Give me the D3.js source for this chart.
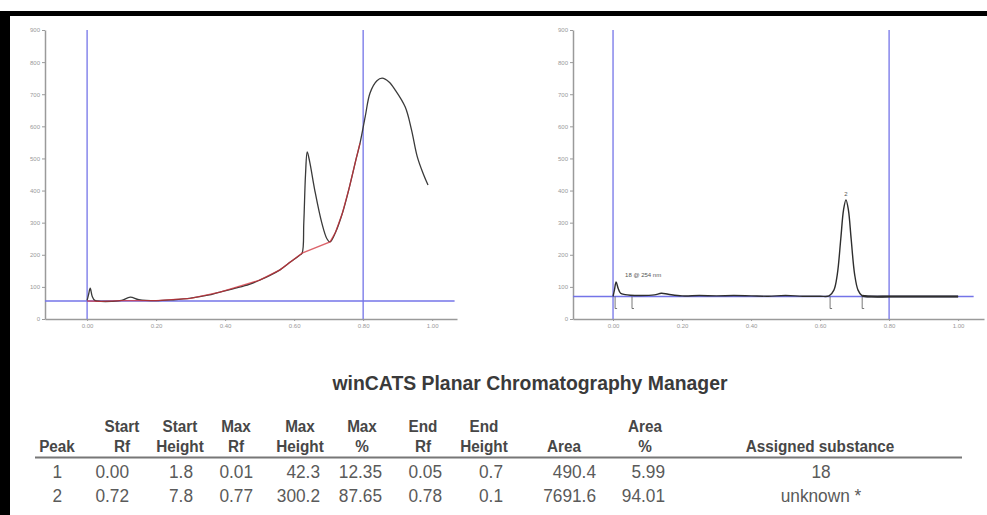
<!DOCTYPE html>
<head>
    <meta charset="utf-8">
    <style>
        body{
            margin:0;
            background:#fff;
        }
        svg{
            display:block;
        }
        .axis text{
            font-family: 'Liberation Sans', Arial, sans-serif;
            font-size: 6px;
            fill: #999;
        }
        .axis line, .axis path{
            stroke: #9a9a9a;
        }
        .axis .domain{
            stroke-width: 1.5px;
        }
        .tbl{
            font-family: 'Liberation Sans', Arial, sans-serif;
        }
        .hdr{
            font-weight: bold;
            fill: #474747;
            font-size: 17px;
        }
        .cell{
            fill: #5a5a5a;
            font-size: 18px;
        }
    </style>
</head>
<body>
    <div id="chart"></div>
    <script src="https://d3js.org/d3.v7.min.js"></script>
    <script>
        // left scan (Rf vs height)
        var leftRf = [0.000, 0.004, 0.009, 0.015, 0.022, 0.04, 0.07, 0.10, 0.125, 0.15, 0.20, 0.25, 0.30, 0.35, 0.385, 0.43, 0.47, 0.50, 0.53, 0.559, 0.59, 0.615, 0.623, 0.628, 0.633, 0.638, 0.645, 0.66, 0.68, 0.695, 0.704, 0.72, 0.74, 0.76, 0.78, 0.791, 0.806, 0.82, 0.84, 0.855, 0.875, 0.893, 0.922, 0.94, 0.957, 0.975, 0.988];
        var leftHeight = [58, 75, 96, 70, 58, 55, 55, 58, 68, 60, 57, 60, 65, 74, 84, 96, 108, 121, 136, 153, 178, 198, 205, 300, 450, 520, 490, 400, 300, 250, 240, 270, 330, 410, 500, 548, 630, 704, 742, 750, 738, 713, 660, 590, 505, 450, 417];

        // red baseline under the left scan
        var baseRf = [0.0, 0.04, 0.10, 0.20, 0.30, 0.385, 0.50, 0.559, 0.623, 0.704, 0.72, 0.74, 0.76, 0.78, 0.791];
        var baseHeight = [56, 55, 57, 57, 64, 84, 121, 153, 205, 240, 270, 330, 410, 500, 548];

        // right scan
        var rightRf = [0.000, 0.004, 0.009, 0.015, 0.022, 0.035, 0.05, 0.08, 0.12, 0.14, 0.16, 0.20, 0.25, 0.30, 0.35, 0.40, 0.45, 0.50, 0.55, 0.60, 0.626, 0.64, 0.65, 0.66, 0.668, 0.675, 0.682, 0.69, 0.70, 0.71, 0.722, 0.75, 0.80, 0.90, 1.00];
        var rightHeight = [70, 90, 115, 95, 80, 76, 74, 73, 75, 80, 77, 72, 73, 72, 73, 72, 71, 73, 71, 71, 72, 90, 140, 250, 340, 371, 340, 250, 140, 90, 72, 70, 70, 70, 70];
        var rightMarks = [0.006, 0.055, 0.629, 0.722];

        var xTicks = [0, 0.2, 0.4, 0.6, 0.8, 1.0];
        var yTicks = [0, 100, 200, 300, 400, 500, 600, 700, 800, 900];
        var cursorRf = [0.0, 0.8];
        var leftLevel = 56;
        var rightLevel = 70;

        // table
        var title = "winCATS Planar Chromatography Manager";
        var headTop = ["", "Start", "Start", "Max", "Max", "Max", "End", "End", "", "Area", ""];
        var headBottom = ["Peak", "Rf", "Height", "Rf", "Height", "%", "Rf", "Height", "Area", "%", "Assigned substance"];
        var row1 = ["1", "0.00", "1.8", "0.01", "42.3", "12.35", "0.05", "0.7", "490.4", "5.99", "18"];
        var row2 = ["2", "0.72", "7.8", "0.77", "300.2", "87.65", "0.78", "0.1", "7691.6", "94.01", "unknown *"];
        var headX = [57, 122, 180, 236, 300, 362, 423, 484, 564, 645, 820];
        var cellX = [62, 129, 193, 253, 320, 382, 442, 503, 596, 665, 821];

        var W = 987, H = 515;
        var blue = "#7474e8";

        var svg = d3.select("#chart").append("svg")
            .attr("width", W)
            .attr("height", H);

        svg.append("rect").attr("width", W).attr("height", H).attr("fill", "#fff");

        var y = d3.scaleLinear().domain([0, 900]).range([319, 30]);

        function panel(opts) {
            var x = d3.scaleLinear().domain(opts.domain).range(opts.range);
            var g = svg.append("g");

            g.append("g")
                .attr("class", "axis")
                .attr("transform", "translate(" + opts.range[0] + ",0)")
                .call(d3.axisLeft(y).tickValues(yTicks).tickSize(3).tickSizeOuter(0).tickPadding(2));

            g.append("g")
                .attr("class", "axis")
                .attr("transform", "translate(0,319)")
                .call(d3.axisBottom(x).tickValues(xTicks).tickSize(2).tickSizeOuter(0).tickPadding(3).tickFormat(d3.format(".2f")));

            // cursors
            g.selectAll(".vcur")
                .data(cursorRf)
                .enter().append("line")
                .attr("x1", function(d) { return x(d); })
                .attr("x2", function(d) { return x(d); })
                .attr("y1", y(900))
                .attr("y2", y(0))
                .attr("stroke", blue)
                .attr("stroke-width", 1.3);

            g.append("line")
                .attr("x1", opts.range[0])
                .attr("x2", x(opts.levelEnd))
                .attr("y1", y(opts.level))
                .attr("y2", y(opts.level))
                .attr("stroke", blue)
                .attr("stroke-width", 1.5);

            return {g: g, x: x};
        }

        // left panel
        var L = panel({domain: [-0.122, 1.072], range: [45, 457], level: leftLevel, levelEnd: 1.065});
        var lineL = d3.line()
            .x(function(d) { return L.x(d[0]); })
            .y(function(d) { return y(d[1]); })
            .curve(d3.curveCatmullRom);

        L.g.append("path")
            .datum(d3.zip(leftRf, leftHeight))
            .attr("d", lineL)
            .attr("fill", "none")
            .attr("stroke", "#3a3a3a")
            .attr("stroke-width", 1.3);

        L.g.append("path")
            .datum(d3.zip(baseRf, baseHeight))
            .attr("d", lineL.curve(d3.curveLinear))
            .attr("fill", "none")
            .attr("stroke", "#d0303a")
            .attr("stroke-opacity", 0.75)
            .attr("stroke-width", 1.3);

        // right panel
        var R = panel({domain: [-0.116, 1.075], range: [573, 984], level: rightLevel, levelEnd: 1.045});
        var lineR = d3.line()
            .x(function(d) { return R.x(d[0]); })
            .y(function(d) { return y(d[1]); })
            .curve(d3.curveCatmullRom);

        R.g.append("path")
            .datum(d3.zip(rightRf, rightHeight))
            .attr("d", lineR)
            .attr("fill", "none")
            .attr("stroke", "#2e2e2e")
            .attr("stroke-width", 1.4);

        R.g.append("path")
            .datum(d3.zip(rightRf.slice(30), rightHeight.slice(30)))
            .attr("d", lineR)
            .attr("fill", "none")
            .attr("stroke", "#2e2e2e")
            .attr("stroke-width", 2.2);

        R.g.selectAll(".mark")
            .data(rightMarks)
            .enter().append("path")
            .attr("d", function(d) {
                var px = R.x(d), py = y(rightLevel);
                return "M" + px + "," + py + "V" + (py + 12) + "h2";
            })
            .attr("fill", "none")
            .attr("stroke", "#555")
            .attr("stroke-width", 0.8);

        R.g.append("text")
            .attr("x", R.x(0.035))
            .attr("y", y(130))
            .attr("font-family", "'Liberation Sans', Arial, sans-serif")
            .attr("font-size", 6)
            .attr("fill", "#555")
            .text("18 @ 254 nm");

        R.g.append("text")
            .attr("x", R.x(0.675))
            .attr("y", y(382))
            .attr("text-anchor", "middle")
            .attr("font-family", "'Liberation Sans', Arial, sans-serif")
            .attr("font-size", 6)
            .attr("fill", "#555")
            .text("2");

        // frame
        svg.append("rect").attr("x", 0).attr("y", 11).attr("width", W).attr("height", 5).attr("fill", "#000");
        svg.append("rect").attr("x", 0).attr("y", 11).attr("width", 10).attr("height", H - 11).attr("fill", "#000");

        // table
        var t = svg.append("g").attr("class", "tbl");

        t.append("text")
            .attr("transform", "translate(530,390) scale(0.97,1)")
            .attr("text-anchor", "middle")
            .attr("font-weight", "bold")
            .attr("font-size", 20)
            .attr("fill", "#3a3a3a")
            .text(title);

        function addRow(vals, xs, yPos, cls, anchor, sx) {
            t.selectAll(null)
                .data(vals)
                .enter().append("text")
                .attr("class", cls)
                .attr("transform", function(d, i) { return "translate(" + xs[i] + "," + yPos + ") scale(" + sx + ",1)"; })
                .attr("text-anchor", function(d, i) { return i == vals.length - 1 ? "middle" : anchor; })
                .text(function(d) { return d; });
        }

        addRow(headTop, headX, 432, "hdr", "middle", 0.9);
        addRow(headBottom, headX, 452, "hdr", "middle", 0.9);

        t.append("line")
            .attr("x1", 35).attr("x2", 962)
            .attr("y1", 457.5).attr("y2", 457.5)
            .attr("stroke", "#777")
            .attr("stroke-width", 2);

        addRow(row1, cellX, 478, "cell", "end", 0.96);
        addRow(row2, cellX, 502, "cell", "end", 0.96);
    </script>
</body>
